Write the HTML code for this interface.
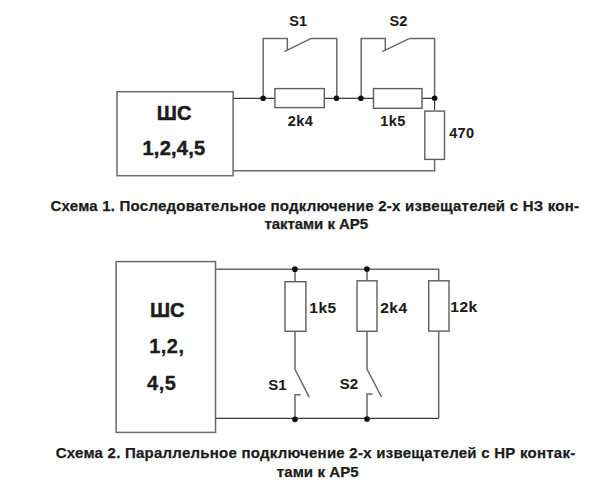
<!DOCTYPE html>
<html><head><meta charset="utf-8">
<style>
html,body{margin:0;padding:0;background:#fff;width:600px;height:490px;overflow:hidden}
svg{display:block}
text{font-family:"Liberation Sans",sans-serif;font-weight:bold;fill:#1c1c1c;stroke:#1c1c1c;stroke-width:0.25}
.l{fill:none;stroke:#6a6a6a;stroke-width:1.5}
.k{fill:none;stroke:#3a3a3a;stroke-width:1.2}
.r{fill:#fff;stroke:#5e5e5e;stroke-width:1.4}
.d{fill:#111}
.s{stroke-width:0.1}
.big{stroke-width:0.5}
.mid{stroke-width:0.3}
</style></head>
<body>
<svg width="600" height="490" viewBox="0 0 600 490">
<!-- Diagram 1 -->
<rect class="l" x="117" y="91.7" width="116.1" height="84"/>
<polyline class="k" points="233.1,98.4 434.6,98.4 434.6,110"/>
<polyline class="l" points="434.6,159 434.6,170.8 233.1,170.8"/>
<polyline class="l" points="263.2,98.4 263.2,38.4 287.3,38.4 287.3,50.2"/>
<line class="l" x1="284.3" y1="51.7" x2="311.2" y2="38.4"/>
<polyline class="l" points="311.2,38.4 336.8,38.4 336.8,98.4"/>
<polyline class="l" points="361.2,98.4 361.2,38.4 385.3,38.4 385.3,50.2"/>
<line class="l" x1="382.3" y1="51.7" x2="409.6" y2="38.4"/>
<polyline class="l" points="409.6,38.4 434.6,38.4 434.6,98.4"/>
<rect class="r" x="274.9" y="88.6" width="49.4" height="19"/>
<rect class="r" x="373.5" y="88.6" width="48.5" height="19.7"/>
<rect class="r" x="424.8" y="111.1" width="19.7" height="48.3"/>
<circle class="d" cx="263.1" cy="98.3" r="2.8"/>
<circle class="d" cx="336.5" cy="98.3" r="2.8"/>
<circle class="d" cx="360.9" cy="98.3" r="2.8"/>
<circle class="d" cx="434.6" cy="98.2" r="2.8"/>
<text x="156.8" y="120.3" font-size="20" class="big">ШС</text>
<text x="142.5" y="155" font-size="20" letter-spacing="0.25" class="big">1,2,4,5</text>
<text class="s" x="289.3" y="25.5" font-size="14.5">S1</text>
<text class="s" x="389.5" y="25.5" font-size="14.5">S2</text>
<text class="s" x="287.8" y="126.3" font-size="14.5" letter-spacing="0.4">2k4</text>
<text class="s" x="380.3" y="126.3" font-size="14.5" letter-spacing="0.4">1k5</text>
<text class="s" x="449.2" y="137.8" font-size="14.5" letter-spacing="0.3">470</text>
<text x="50.5" y="210.5" font-size="15" textLength="528.5" lengthAdjust="spacing">Схема 1. Последовательное подключение 2-х извещателей с НЗ кон-</text>
<text x="264.5" y="229.2" font-size="15" textLength="103.5" lengthAdjust="spacing">тактами к АР5</text>
<!-- Diagram 2 -->
<rect class="l" x="116.1" y="261.6" width="99.4" height="170.8"/>
<polyline class="l" points="215.5,269.3 438.7,269.3 438.7,418.3"/>
<polyline class="k" points="438.7,418.3 215.5,418.3"/>
<polyline class="l" points="295,269.3 295,369.4 309.2,397.2"/>
<polyline class="l" points="300.6,394.8 295,394.8 295,418.3"/>
<polyline class="l" points="367,269.3 367,369 381.5,397"/>
<polyline class="l" points="372.6,394.1 367,394.1 367,418.3"/>
<rect class="r" x="285" y="281.7" width="20.9" height="49.6"/>
<rect class="r" x="357" y="280.8" width="20" height="50.5"/>
<rect class="r" x="428.7" y="280.8" width="20.3" height="50.3"/>
<circle class="d" cx="294.9" cy="269.2" r="2.85"/>
<circle class="d" cx="366.9" cy="269" r="2.85"/>
<circle class="d" cx="295" cy="419.3" r="2.85"/>
<circle class="d" cx="367" cy="419" r="2.85"/>
<text x="149.9" y="317.2" font-size="20" class="big">ШС</text>
<text x="149.2" y="353.4" font-size="20" letter-spacing="0.5" class="mid">1,2,</text>
<text x="147.1" y="389.6" font-size="20" letter-spacing="0.5" class="mid">4,5</text>
<text class="s" x="309.3" y="312.6" font-size="15.5" letter-spacing="0.5">1k5</text>
<text class="s" x="380.2" y="312.6" font-size="15.5" letter-spacing="0.5">2k4</text>
<text class="s" x="450.3" y="312" font-size="15.5" letter-spacing="0.5">12k</text>
<text class="s" x="268.3" y="390" font-size="15">S1</text>
<text class="s" x="339.7" y="388.7" font-size="15">S2</text>
<text x="55.7" y="458.2" font-size="15" textLength="519.5" lengthAdjust="spacing">Схема 2. Параллельное подключение 2-х извещателей с НР контак-</text>
<text x="276.8" y="476.9" font-size="15" textLength="81.8" lengthAdjust="spacing">тами к АР5</text>
</svg>
</body></html>
